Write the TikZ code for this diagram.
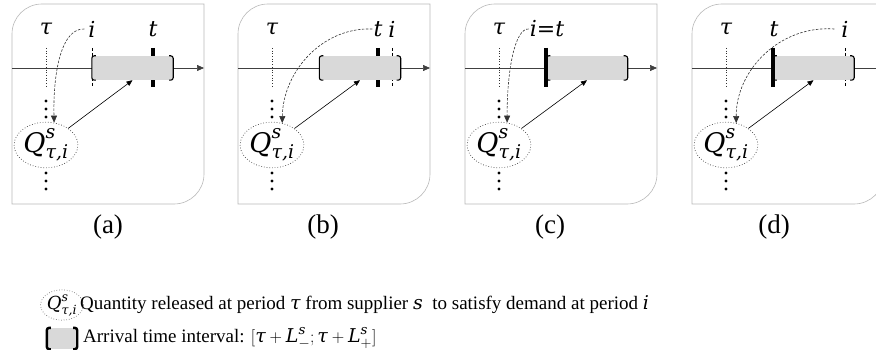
\documentclass[tikz,border=0pt]{standalone}
\usepackage{fontspec}
\usepackage{amsmath}
\setmainfont{Liberation Serif}
\newfontfamily\dvs{DejaVu Serif}
\usetikzlibrary{arrows.meta,shapes.geometric}
\newcommand\mv[1]{\text{\dvs\itshape #1}}
\newcommand\mi[1]{{\dvs\itshape #1}}
\begin{document}
\begin{tikzpicture}[x=1pt,y=-1pt,
  frame/.style={draw=black!28,line width=0.6pt},
  axisline/.style={draw=black!75,line width=0.6pt,-{Triangle[length=7pt,width=6pt]}},
  lab/.style={inner sep=0pt,font=\fontsize{22}{22}\selectfont\dvs\itshape},
  tauline/.style={dotted,line width=0.7pt,draw=black!80},
  iline/.style={dash pattern=on 3pt off 2pt,line width=0.6pt},
  tbar/.style={line width=3.2pt},
  intv/.style={fill=black!15,draw=none,minimum width=81pt,minimum height=24pt,inner sep=0pt},
  brk/.style={line width=1.1pt,rounded corners=2.5pt},
  qell/.style={ellipse,draw=black!75,dotted,line width=0.7pt,minimum width=48pt,minimum height=42pt,inner sep=0pt,font=\fontsize{27}{27}\selectfont},
  curvarr/.style={dash pattern=on 2.5pt off 1.5pt,line width=0.6pt,draw=black!80,-{Triangle[length=7pt,width=6pt]}},
  solarr/.style={line width=0.6pt,-{Triangle[length=6pt,width=5pt]}},
  plab/.style={font=\fontsize{27}{27}\selectfont,inner sep=0pt},
  legtxt/.style={font=\fontsize{19}{19}\selectfont,anchor=west,inner sep=0pt}
]
\useasboundingbox (0,0) rectangle (876,350);
\clip (0,0) rectangle (876,350);

% ---------- panel (a)
\begin{scope}[xshift=12pt]
\draw[frame] (0,204) -- (0,34) .. controls (0,17.4) and (13.4,4) .. (30,4) -- (192,4) -- (192,174) .. controls (192,190.6) and (178.6,204) .. (162,204) -- cycle;
\draw[axisline] (0,68) -- (192,68);
\draw[tauline] (34,48) -- (34,87);
\draw[iline] (80,48) -- (80,87);
\draw[tbar] (141,48) -- (141,87);
\node[intv] (a-int) at (120.5,68) {};
\draw[brk] ([xshift=4pt]a-int.north west) -- (a-int.north west) -- (a-int.south west) -- ([xshift=4pt]a-int.south west);
\draw[brk] ([xshift=-4pt]a-int.north east) -- (a-int.north east) -- (a-int.south east) -- ([xshift=-4pt]a-int.south east);
\node[lab] (a-tau) at (34,29) {τ};
\node[lab] (a-i) at (80,29) {i};
\node[lab] (a-t) at (141,29) {t};
\foreach \y in {101,109,117,173,181,189} \fill (34,\y) circle (1.6);
\node[qell] (a-q) at (34,145) {$\mv{Q}^{\mv{s}}_{\mv{τ,i}}$};
\draw[curvarr] ([xshift=-4pt]a-i.west) .. controls (50,28) and (41,70) .. (a-q.70);
\draw[solarr] (a-q) -- (a-int.south);
\node[plab] (a-lab) at (96,227) {(a)};
\end{scope}

% ---------- panel (b)
\begin{scope}[xshift=238pt]
\draw[frame] (0,204) -- (0,34) .. controls (0,17.4) and (13.4,4) .. (30,4) -- (192,4) -- (192,174) .. controls (192,190.6) and (178.6,204) .. (162,204) -- cycle;
\draw[axisline] (0,68) -- (192,68);
\draw[tauline] (34,48) -- (34,87);
\draw[iline] (154,48) -- (154,87);
\draw[tbar] (140,48) -- (140,87);
\node[intv] (b-int) at (122,68) {};
\draw[brk] ([xshift=4pt]b-int.north west) -- (b-int.north west) -- (b-int.south west) -- ([xshift=4pt]b-int.south west);
\draw[brk] ([xshift=-4pt]b-int.north east) -- (b-int.north east) -- (b-int.south east) -- ([xshift=-4pt]b-int.south east);
\node[lab] (b-tau) at (34,29) {τ};
\node[lab] (b-t) at (140,29) {t};
\node[lab] (b-i) at (154,29) {i};
\foreach \y in {101,109,117,173,181,189} \fill (34,\y) circle (1.6);
\node[qell] (b-q) at (34,145) {$\mv{Q}^{\mv{s}}_{\mv{τ,i}}$};
\draw[curvarr] ([xshift=-1pt]b-t.west) .. controls (84,27) and (45,72) .. (b-q.65);
\draw[solarr] (b-q) -- (b-int.south);
\node[plab] (b-lab) at (85,227) {(b)};
\end{scope}

% ---------- panel (c)
\begin{scope}[xshift=465pt]
\draw[frame] (0,204) -- (0,34) .. controls (0,17.4) and (13.4,4) .. (30,4) -- (192,4) -- (192,174) .. controls (192,190.6) and (178.6,204) .. (162,204) -- cycle;
\draw[axisline] (0,68) -- (192,68);
\draw[tauline] (34,48) -- (34,87);
\node[intv] (c-int) at (122,68) {};
\draw[brk] ([xshift=4pt]c-int.north west) -- (c-int.north west) -- (c-int.south west) -- ([xshift=4pt]c-int.south west);
\draw[brk] ([xshift=-4pt]c-int.north east) -- (c-int.north east) -- (c-int.south east) -- ([xshift=-4pt]c-int.south east);
\draw[tbar] (81,48) -- (81,87);
\node[lab] (c-tau) at (34,29) {τ};
\node[lab] (c-it) at (82,29) {i\upshape=\itshape t};
\foreach \y in {101,109,117,173,181,189} \fill (34,\y) circle (1.6);
\node[qell] (c-q) at (34,145) {$\mv{Q}^{\mv{s}}_{\mv{τ,i}}$};
\draw[curvarr] ([xshift=-1pt]c-it.west) .. controls (50,28) and (42,70) .. (c-q.70);
\draw[solarr] (c-q) -- (c-int.south);
\node[plab] (c-lab) at (85,227) {(c)};
\end{scope}

% ---------- panel (d)
\begin{scope}[xshift=692pt]
\draw[frame] (0,204) -- (0,34) .. controls (0,17.4) and (13.4,4) .. (30,4) -- (192,4) -- (192,174) .. controls (192,190.6) and (178.6,204) .. (162,204) -- cycle;
\draw[axisline] (0,68) -- (192,68);
\draw[tauline] (34,48) -- (34,87);
\draw[iline] (153,48) -- (153,87);
\node[intv] (d-int) at (121.5,68) {};
\draw[brk] ([xshift=4pt]d-int.north west) -- (d-int.north west) -- (d-int.south west) -- ([xshift=4pt]d-int.south west);
\draw[brk] ([xshift=-4pt]d-int.north east) -- (d-int.north east) -- (d-int.south east) -- ([xshift=-4pt]d-int.south east);
\draw[tbar] (81,48) -- (81,87);
\node[lab] (d-tau) at (34,29) {τ};
\node[lab] (d-t) at (82,29) {t};
\node[lab] (d-i) at (153,29) {i};
\foreach \y in {101,109,117,173,181,189} \fill (34,\y) circle (1.6);
\node[qell] (d-q) at (34,145) {$\mv{Q}^{\mv{s}}_{\mv{τ,i}}$};
\draw[curvarr] ([xshift=-7pt]d-i.west) .. controls (88,25) and (44,70) .. (d-q.65);
\draw[solarr] (d-q) -- (d-int.south);
\node[plab] (d-lab) at (82,227) {(d)};
\end{scope}

% ---------- legend
\node[ellipse,draw=black!75,dotted,line width=0.6pt,minimum width=31pt,minimum height=27pt,inner sep=0pt,font=\fontsize{18}{18}\selectfont] (lq) at (62,305) {$\mv{Q}^{\mv{s}}_{\mv{τ,i}}$};
\node[legtxt] (lqt) at (80,305) {Quantity released at period \mi{τ} from supplier \mi{s}\ \ to satisfy demand at period \mi{i}};
\node[intv,minimum width=30pt,minimum height=21pt] (li) at (62,338.5) {};
\draw[brk,line width=2.4pt] ([xshift=4pt]li.north west) -- (li.north west) -- (li.south west) -- ([xshift=4pt]li.south west);
\draw[brk,line width=2.4pt] ([xshift=-4pt]li.north east) -- (li.north east) -- (li.south east) -- ([xshift=-4pt]li.south east);
\node[legtxt] (lit) at (83,338) {Arrival time interval: $[\mv{τ}+\mv{L}^{\mv{s}}_{-};\mv{τ}+\mv{L}^{\mv{s}}_{+}]$};
\end{tikzpicture}
\end{document}
